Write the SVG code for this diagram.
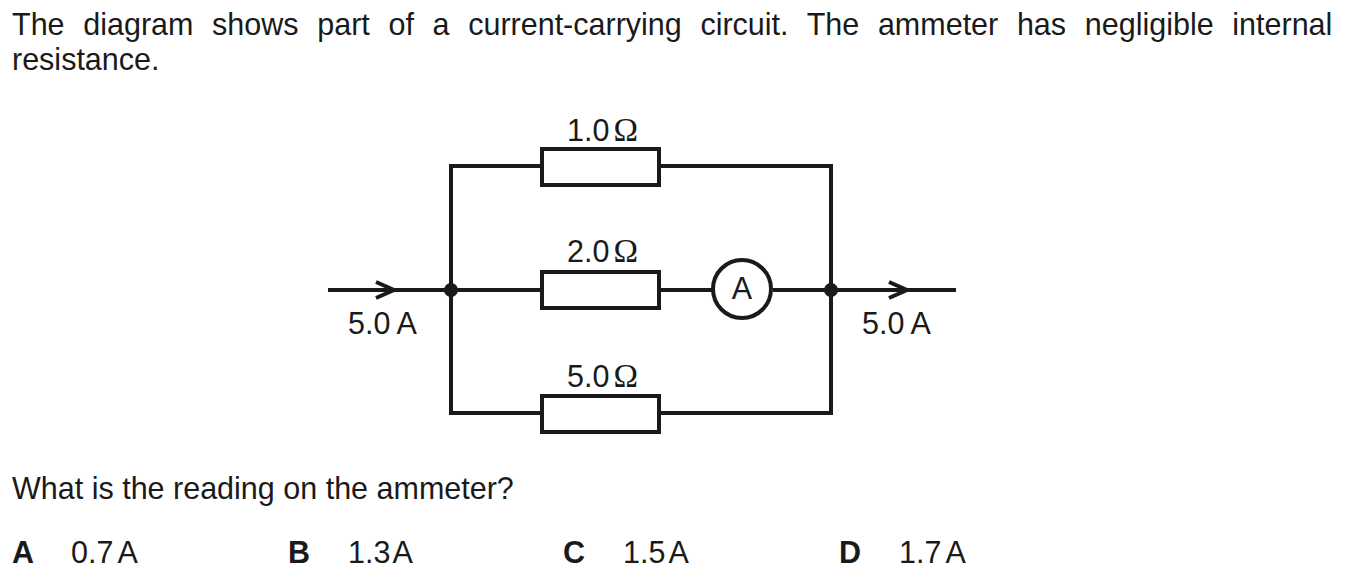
<svg xmlns="http://www.w3.org/2000/svg" width="1346" height="581" viewBox="0 0 1346 581">
<style>
text{font-family:"Liberation Sans",Arial,sans-serif;font-size:30.5px;fill:#1a1a1a}
.b{font-weight:bold}
.om{font-family:"Liberation Serif","Times New Roman",serif;font-size:33px}
.w{fill:none;stroke:#1a1a1a;stroke-width:4;stroke-linecap:butt}
.r{fill:#fff;stroke:#1a1a1a;stroke-width:4}
.d{fill:#1a1a1a}
</style>
<rect width="1346" height="581" fill="#fff"/>
<g id="question">
<text x="12" y="35" word-spacing="10.2">The diagram shows part of a current-carrying circuit. The ammeter has negligible internal</text>
<text x="12" y="70">resistance.</text>
<text x="12" y="498.5">What is the reading on the ammeter?</text>
</g>
<g id="connectors">
<path class="w" d="M542 166H451V413H542M659 166H831V413H659"/>
<path class="w" d="M328 290H542M659 290H713M773 290H956"/>
<path class="w" d="M376 282L394 290L376 298M889 282L907 290L889 298"/>
</g>
<g id="r1"><rect class="r" x="542" y="149" width="117" height="36"/><text x="567" y="141">1.0<tspan class="om" dx="4">Ω</tspan></text></g>
<g id="r2"><rect class="r" x="542" y="272" width="117" height="36"/><text x="567" y="262">2.0<tspan class="om" dx="4">Ω</tspan></text></g>
<g id="r3"><rect class="r" x="542" y="396" width="117" height="36"/><text x="567" y="387">5.0<tspan class="om" dx="4">Ω</tspan></text></g>
<g id="ammeter"><circle class="r" cx="742" cy="289" r="29"/><text x="742" y="299" text-anchor="middle">A</text></g>
<g id="junction-left"><circle class="d" cx="451" cy="290" r="7"/></g>
<g id="junction-right"><circle class="d" cx="831" cy="290" r="7"/></g>
<g id="label-in"><text x="348" y="334">5.0<tspan dx="6">A</tspan></text></g>
<g id="label-out"><text x="862" y="334">5.0<tspan dx="6">A</tspan></text></g>
<g id="options">
<text class="b" x="12" y="563">A</text><text x="71" y="563">0.7<tspan dx="4">A</tspan></text>
<text class="b" x="288" y="563">B</text><text x="348" y="563">1.3<tspan dx="2">A</tspan></text>
<text class="b" x="563" y="563">C</text><text x="623" y="563">1.5<tspan dx="3">A</tspan></text>
<text class="b" x="839" y="563">D</text><text x="899" y="563">1.7<tspan dx="4">A</tspan></text>
</g>
</svg>
